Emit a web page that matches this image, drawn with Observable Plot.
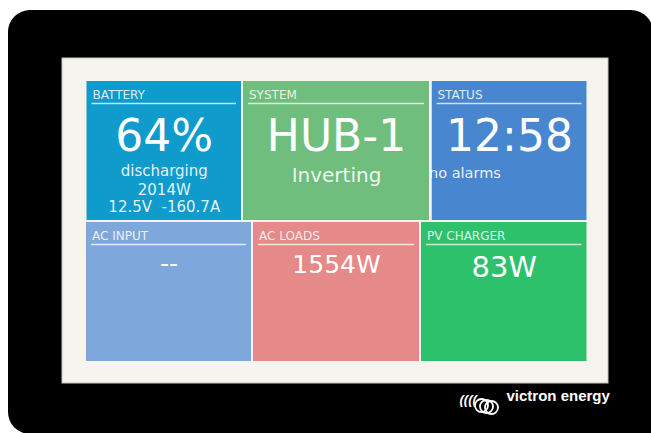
<!DOCTYPE html>
<html><head><meta charset="utf-8">
<script src="https://cdn.jsdelivr.net/npm/d3@7"></script>
<script src="https://cdn.jsdelivr.net/npm/@observablehq/plot@0.6"></script>
<style>html,body{margin:0;padding:0;background:#fff;overflow:hidden}</style>
</head><body><div id="chart"></div>
<script>
// ---- content ----
const tileNames  = ["BATTERY", "SYSTEM", "STATUS", "AC INPUT", "AC LOADS", "PV CHARGER"];
const tileValues = ["64%", "HUB-1", "12:58", "--", "1554W", "83W"];
const batteryLines = ["discharging", "2014W", "12.5V\u00a0\u00a0-160.7A"];
const systemState = ["Inverting"];
const statusNote = ["no alarms"];
const brandName = ["victron energy"];

// ---- layout & style (kept apart from the content) ----
const W = 651, H = 433;
const tileBoxes = [
  {x1: 86.5, x2: 241,   y1: 81,  y2: 220},
  {x1: 243,  x2: 429,   y1: 81,  y2: 220},
  {x1: 431.5,x2: 586.5, y1: 81,  y2: 220},
  {x1: 86,   x2: 251,   y1: 222, y2: 361},
  {x1: 253,  x2: 419,   y1: 222, y2: 361},
  {x1: 421,  x2: 586.5, y1: 222, y2: 361}
];
const tileColors = ["#0f9bcb", "#70be7d", "#4886cf", "#7ea8dc", "#e58a88", "#2ec16b"];
const valueSizes = [44, 44, 44, 25, 25, 29];
const valueBaselines = [150, 150, 150, 271.5, 272, 276.5];
const device = [{x1: 8, x2: 653, y1: 10, y2: 434}];
const deviceCorner = [{x1: 400, x2: 651, y1: 300, y2: 433}];
const screen = [{x1: 62, x2: 608, y1: 58, y2: 383}];
const coil = [{x: 481, y: 405}, {x: 486, y: 406}, {x: 491, y: 407}];

const tiles = tileNames.map((name, i) => ({
  name, value: tileValues[i], color: tileColors[i],
  size: valueSizes[i], base: valueBaselines[i], ...tileBoxes[i],
  cx: (tileBoxes[i].x1 + tileBoxes[i].x2) / 2
}));
const batt = tiles[0], sys = tiles[1];
const battRows = batteryLines.map((t, i) => ({t, y: [175, 194, 211.5][i]}));
const box = {x1: "x1", x2: "x2", y1: "y1", y2: "y2"};

const plot = Plot.plot({
  width: W, height: H, margin: 0,
  x: {domain: [0, W], range: [0, W], axis: null},
  y: {domain: [0, H], range: [0, H], axis: null},
  color: {type: "identity"},
  style: {background: "#ffffff", fontFamily: "DejaVu Sans"},
  marks: [
    Plot.rect(device, {...box, fill: "#000", rx: 22}),
    Plot.rect(deviceCorner, {...box, fill: "#000"}),
    Plot.rect(screen, {...box, fill: "#f6f4ef", stroke: "#c9c5bd", strokeWidth: 1}),
    Plot.rect(tiles, {...box, fill: "color"}),
    Plot.text(tiles, {x: d => d.x1 + 5.5, y: d => d.y1 + 17.5, text: "name", textAnchor: "start", lineAnchor: "bottom",
      fill: "#fff", fillOpacity: 0.85, fontSize: 12}),
    Plot.ruleY(tiles, {y: d => d.y1 + 22, x1: d => d.x1 + 5, x2: d => d.x2 - 5, stroke: "#fff", strokeOpacity: 0.75, strokeWidth: 1.5}),
    Plot.text(tiles, {x: "cx", y: "base", text: "value", fontSize: d => d.size, lineAnchor: "bottom", fill: "#fff"}),
    Plot.text(battRows, {x: batt.cx, y: "y", text: "t", fontSize: 15, lineAnchor: "bottom", fill: "#fff", fillOpacity: 0.9}),
    Plot.text(systemState, {x: sys.cx, y: 181, text: d => d, fontSize: 20, lineAnchor: "bottom", fill: "#fff", fillOpacity: 0.9}),
    Plot.text(statusNote, {x: 428.5, y: 177, text: d => d, fontSize: 14.5, textAnchor: "start", lineAnchor: "bottom", fill: "#fff", fillOpacity: 0.9}),
    Plot.rect([{x1: 429, x2: 431.5, y1: 81, y2: 220}], {...box, fill: "#f6f4ef"}),
    Plot.rect([{x1: 426, x2: 429, y1: 81, y2: 220}], {...box, fill: tileColors[1]}),
    Plot.text(["(((("], {x: 459, y: 403, text: d => d, fontSize: 13, fontWeight: "bold", fontStyle: "italic",
      fontFamily: "Liberation Sans", textAnchor: "start", lineAnchor: "bottom", fill: "#fff"}),
    Plot.dot(coil, {x: "x", y: "y", r: 6.5, stroke: "#fff", strokeWidth: 1.8, fill: "none"}),
    Plot.text(brandName, {x: 506, y: 400, text: d => d, fontSize: 15, fontWeight: "bold", fontFamily: "Liberation Sans",
      textAnchor: "start", lineAnchor: "bottom", fill: "#fff"})
  ]
});
document.getElementById("chart").appendChild(plot);
</script>
</body></html>
